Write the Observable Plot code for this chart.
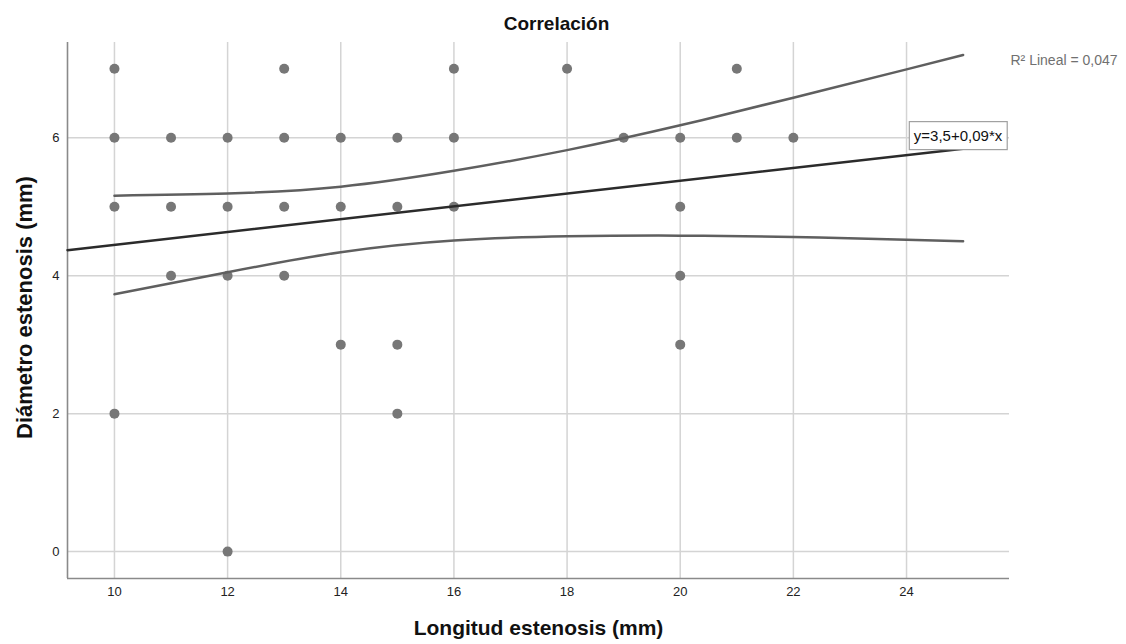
<!DOCTYPE html>
<html>
<head>
<meta charset="utf-8">
<script src="https://cdn.jsdelivr.net/npm/d3@7"></script>
<script src="https://cdn.jsdelivr.net/npm/@observablehq/plot@0.6"></script>
<style>
  body { margin: 0; background: #fff; }
  #chart svg { display: block; }
</style>
</head>
<body>
<div id="chart"></div>
<script>
// Scatter data (Longitud estenosis, Diámetro estenosis)
const longitud = [10,10,10,10, 11,11,11, 12,12,12,12, 13,13,13,13, 14,14,14, 15,15,15,15, 16,16,16, 18, 19, 20,20,20,20, 21,21, 22];
const diametro = [ 7, 6, 5, 2,  6, 5, 4,  6, 5, 4, 0,  7, 6, 5, 4,  6, 5, 3,  6, 5, 3, 2,  7, 6, 5,  7,  6,  6, 5, 4, 3,  7, 6,  6];

// Confidence band curves
const ciX     = [10,   12,   14,   16,   18,   20,   22,   24,   25];
const ciUpper = [5.16, 5.19, 5.29, 5.52, 5.82, 6.18, 6.58, 6.99, 7.20];
const ciLower = [3.73, 4.05, 4.34, 4.51, 4.57, 4.58, 4.56, 4.52, 4.50];

// Fit line end points
const fitX = [9.17, 25];
const fitY = [4.37, 5.84];

const xTicks = [10, 12, 14, 16, 18, 20, 22, 24];
const yTicks = [0, 2, 4, 6];
const xDomain = [9.17, 25.82];
const yDomain = [-0.39, 7.38];

const titleText = "Correlación";
const xLabel = "Longitud estenosis (mm)";
const yLabel = "Diámetro estenosis (mm)";
const r2Label = "R² Lineal = 0,047";
const eqLabel = "y=3,5+0,09*x";
const eqX = [24.91];
const eqY = [6.02];

const points = longitud.map((x, i) => ({x, y: diametro[i]}));
const upper = ciX.map((x, i) => ({x, y: ciUpper[i]}));
const lower = ciX.map((x, i) => ({x, y: ciLower[i]}));
const fit = fitX.map((x, i) => ({x, y: fitY[i]}));
const eq = [{x: eqX[0], y: eqY[0], t: eqLabel}];

const chart = Plot.plot({
  width: 1126,
  height: 644,
  marginLeft: 67,
  marginRight: 117,
  marginTop: 42,
  marginBottom: 66,
  style: {fontFamily: "'Liberation Sans', Arial, sans-serif", background: "#fff", overflow: "visible"},
  x: {domain: xDomain},
  y: {domain: yDomain},
  marks: [
    Plot.ruleX(xTicks, {stroke: "#d4d4d4", strokeWidth: 1.5}),
    Plot.ruleY(yTicks, {stroke: "#d4d4d4", strokeWidth: 1.5}),
    Plot.ruleX([xDomain[0]], {stroke: "#8a8a8a", strokeWidth: 1.6}),
    Plot.ruleY([yDomain[0]], {stroke: "#8a8a8a", strokeWidth: 1.6}),
    Plot.axisX({ticks: xTicks, tickSize: 0, tickPadding: 8, fontSize: 13, color: "#222", label: null}),
    Plot.axisY({ticks: yTicks, tickSize: 0, tickPadding: 8, fontSize: 13, color: "#222", label: null}),
    Plot.dot(points, {x: "x", y: "y", r: 5, fill: "#777777", stroke: "none"}),
    Plot.line(upper, {x: "x", y: "y", curve: "natural", stroke: "#5f5f5f", strokeWidth: 2.5}),
    Plot.line(lower, {x: "x", y: "y", curve: "natural", stroke: "#5f5f5f", strokeWidth: 2.5}),
    Plot.line(fit, {x: "x", y: "y", stroke: "#2b2b2b", strokeWidth: 2.5}),
    Plot.text(eq, {x: "x", y: "y", text: "t", fontSize: 15, fill: "#111", textAnchor: "middle"}),
    Plot.text([r2Label], {frameAnchor: "top-right", dx: 1, dy: 13, textAnchor: "start", fontSize: 14, fill: "#707070"}),
    Plot.text([titleText], {frameAnchor: "top", dx: 18, dy: -26, fontSize: 19, fontWeight: "bold", fill: "#111"}),
    Plot.text([xLabel], {frameAnchor: "bottom", dx: 0, dy: 56, fontSize: 21, fontWeight: "bold", fill: "#111"}),
    Plot.text([yLabel], {frameAnchor: "left", textAnchor: "middle", dx: -43, dy: -3, rotate: -90, fontSize: 22, fontWeight: "bold", fill: "#111"})
  ]
});

document.getElementById("chart").appendChild(chart);

// box around the equation label
for (const t of chart.querySelectorAll("text")) {
  if (t.textContent === eqLabel) {
    const b = t.getBBox();
    const rect = document.createElementNS("http://www.w3.org/2000/svg", "rect");
    rect.setAttribute("x", b.x - 4.5);
    rect.setAttribute("y", b.y - 5.5);
    rect.setAttribute("width", b.width + 9);
    rect.setAttribute("height", b.height + 11);
    rect.setAttribute("fill", "#fff");
    rect.setAttribute("stroke", "#a0a0a0");
    rect.setAttribute("stroke-width", "1.2");
    const tr = t.getAttribute("transform");
    if (tr) rect.setAttribute("transform", tr);
    t.parentNode.insertBefore(rect, t);
  }
}
</script>
</body>
</html>
